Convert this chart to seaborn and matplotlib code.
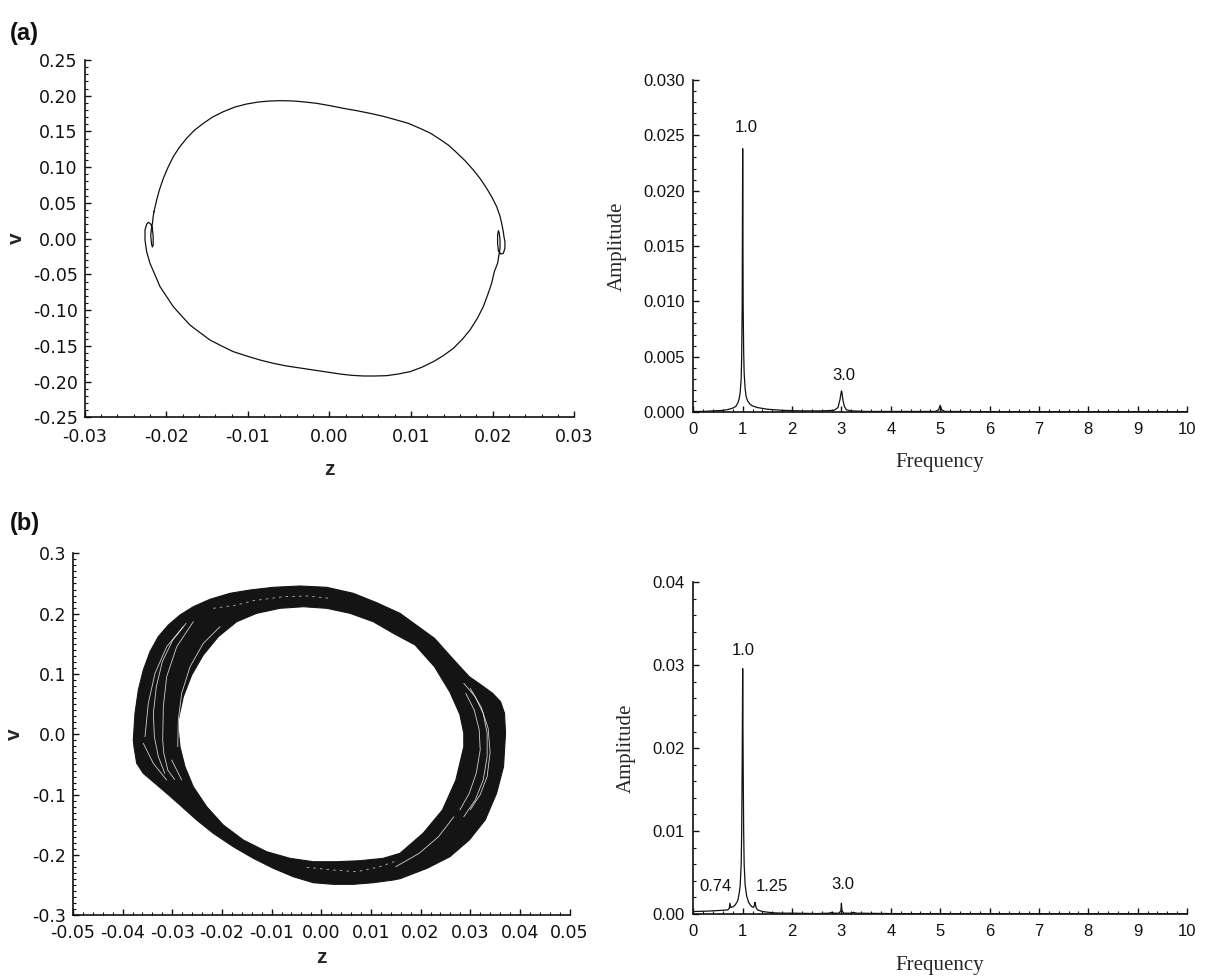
import matplotlib
matplotlib.use("Agg")
import numpy as np
import pandas as pd
import matplotlib.pyplot as plt
import seaborn as sns
from matplotlib.ticker import MultipleLocator, FuncFormatter

# ---------------- (a) phase portrait: periodic orbit, drawn clockwise ----------------
upper_z = [-0.02150, -0.02117, -0.02084, -0.02035, -0.01978, -0.01913, -0.01839, -0.01750,
           -0.01656, -0.01545, -0.01431, -0.01300, -0.01157, -0.01014, -0.00871, -0.00729,
           -0.00586, -0.00443, -0.00300, -0.00157, 0.00007, 0.00170, 0.00333, 0.00497,
           0.00660, 0.00823, 0.00966, 0.01109, 0.01240, 0.01354, 0.01461, 0.01559,
           0.01665, 0.01763, 0.01853, 0.01926, 0.01991, 0.02049, 0.02089, 0.02110,
           0.02130, 0.02138]
upper_v = [0.03776, 0.05409, 0.06808, 0.08441, 0.09980, 0.11473, 0.12779, 0.14038,
           0.15158, 0.16137, 0.17024, 0.17770, 0.18423, 0.18843, 0.19123, 0.19263,
           0.19309, 0.19263, 0.19123, 0.18936, 0.18610, 0.18236, 0.17910, 0.17537,
           0.17117, 0.16604, 0.16137, 0.15438, 0.14738, 0.13898, 0.13059, 0.12032,
           0.10866, 0.09607, 0.08301, 0.07041, 0.05782, 0.04476, 0.03170, 0.02144,
           0.00977, 0.00278]
right_loop_z = [0.0215, 0.0215, 0.0213, 0.0210, 0.0207, 0.0206, 0.0206, 0.0207,
                0.0208, 0.0209, 0.0209, 0.0208, 0.0206]
right_loop_v = [-0.0043, -0.0135, -0.0205, -0.0215, -0.0169, -0.0065, 0.0051, 0.0111,
                0.0083, -0.0019, -0.0135, -0.0205, -0.0345]
lower_z = [0.02020, 0.01987, 0.01938, 0.01885, 0.01812, 0.01722, 0.01628, 0.01518,
           0.01395, 0.01273, 0.01130, 0.00987, 0.00844, 0.00701, 0.00558, 0.00415,
           0.00272, 0.00129, -0.00034, -0.00198, -0.00361, -0.00524, -0.00688, -0.00851,
           -0.01014, -0.01178, -0.01321, -0.01464, -0.01586, -0.01709, -0.01811, -0.01913,
           -0.01995, -0.02076, -0.02137, -0.02199, -0.02240, -0.02260]
lower_v = [-0.04620, -0.06253, -0.07886, -0.09518, -0.11151, -0.12783, -0.14089, -0.15349,
           -0.16375, -0.17215, -0.18008, -0.18614, -0.18941, -0.19174, -0.19220, -0.19220,
           -0.19127, -0.18941, -0.18661, -0.18381, -0.18101, -0.17821, -0.17448, -0.16981,
           -0.16422, -0.15815, -0.15022, -0.14183, -0.13156, -0.12084, -0.10824, -0.09518,
           -0.08119, -0.06719, -0.05087, -0.03454, -0.01822, -0.00189]
left_loop_z = [-0.0226, -0.0224, -0.0222, -0.0219, -0.0217, -0.0216, -0.0216, -0.0217,
               -0.0218, -0.0219, -0.0218, -0.0217, -0.0216, -0.02150]
left_loop_v = [0.0121, 0.0201, 0.0229, 0.0205, 0.0145, 0.0027, -0.0089, -0.0117,
               -0.0075, 0.0051, 0.0145, 0.0205, 0.0307, 0.03776]

# ---------------- (a) amplitude spectrum ----------------
freq_a = [0.0, 0.2, 0.4, 0.6, 0.7, 0.8, 0.86, 0.9, 0.93, 0.95, 0.97, 0.98, 0.99, 1.0,
          1.01, 1.02, 1.03, 1.05, 1.07, 1.1, 1.15, 1.2, 1.3, 1.5, 1.8, 2.2, 2.6,
          2.85, 2.93, 2.97, 3.0, 3.01, 3.03, 3.06, 3.1, 3.2, 3.5, 4.0, 4.9, 4.97,
          5.0, 5.03, 5.1, 6.0, 7.0, 8.0, 9.0, 10.0]
amp_a = [0.00005, 0.00005, 0.0001, 0.00015, 0.00022, 0.00035, 0.0005, 0.0008, 0.0012,
         0.0018, 0.0030, 0.0050, 0.0095, 0.0238, 0.0095, 0.0055, 0.0035, 0.0021,
         0.0014, 0.0010, 0.0007, 0.00055, 0.0004, 0.00025, 0.00015, 0.0001, 0.0001,
         0.00015, 0.0004, 0.0011, 0.0019, 0.0018, 0.0011, 0.0005, 0.0002, 0.0001,
         0.00005, 0.00005, 0.00005, 0.0002, 0.0006, 0.0002, 0.00005, 0.00003,
         0.00003, 0.00003, 0.00003, 0.00003]
peaks_a = ["1.0", "3.0"]
peak_label_a_x = [1.07, 3.04]
peak_label_a_y = [0.0257, 0.0033]

# ---------------- (b) phase portrait: band swept by quasi-periodic orbits ----------------
band_outer_z = [-0.03784, -0.03750, -0.03683, -0.03583, -0.03448, -0.03281, -0.03079,
                -0.02844, -0.02576, -0.02240, -0.01837, -0.01434, -0.00965, -0.00428,
                0.00110, 0.00645, 0.01116, 0.01585, 0.0228, 0.0267, 0.0298, 0.0322,
                0.0345, 0.0361, 0.0369, 0.0371, 0.0367, 0.0353, 0.0330, 0.0298, 0.0259,
                0.0213, 0.01585, 0.01451, 0.01048, 0.00645, 0.00243, -0.00160, -0.00563,
                -0.00965, -0.01368, -0.01771, -0.02173, -0.02508, -0.02844, -0.03112,
                -0.03347, -0.03583, -0.03716, -0.03770]
band_outer_v = [-0.00947, 0.03479, 0.07341, 0.10656, 0.13690, 0.16176, 0.18115,
                0.19773, 0.21149, 0.22375, 0.23370, 0.23917, 0.24364, 0.24580,
                0.24364, 0.23370, 0.21812, 0.20055, 0.1591, 0.1232, 0.0955, 0.0817,
                0.0680, 0.0541, 0.0348, 0.0016, -0.0537, -0.0978, -0.1421, -0.1752, -0.2029,
                -0.2221, -0.23937, -0.24152, -0.24600, -0.24865, -0.24865, -0.24600, -0.23605,
                -0.22213, -0.20555, -0.18632, -0.16411, -0.14207, -0.11720, -0.09781,
                -0.08124, -0.06466, -0.04809, -0.02057]
band_inner_z = [-0.02878, -0.02777, -0.02608, -0.02375, -0.02073, -0.01702, -0.01300,
                -0.00830, -0.00361, 0.00110, 0.00579, 0.01048, 0.01451, 0.0189, 0.0228,
                0.0259, 0.0279, 0.0287, 0.0287, 0.0271, 0.0244, 0.0205, 0.01585, 0.01249,
                0.00780, 0.00311, -0.00160, -0.00629, -0.01098, -0.01569, -0.01972,
                -0.02306, -0.02576, -0.02743, -0.02844, -0.02878]
band_inner_v = [0.02369, 0.06231, 0.09828, 0.13143, 0.16176, 0.18662, 0.20055,
                0.20883, 0.21149, 0.20883, 0.20055, 0.18662, 0.16740, 0.1480, 0.1120,
                0.0700, 0.0330, 0.0016, -0.0205, -0.0758, -0.1255, -0.1641, -0.19726, -0.20555,
                -0.20953, -0.21119, -0.21119, -0.20555, -0.19461, -0.17522, -0.15036,
                -0.12002, -0.08687, -0.05372, -0.02057, 0.00711]

# thin gaps between neighbouring trajectories inside the band
gap_z = {
    "left_a": [-0.02576, -0.02910, -0.03112, -0.03180, -0.03192, -0.0317, -0.0309, -0.0295],
    "left_b": [-0.02038, -0.02375, -0.02642, -0.02810, -0.02878, -0.02890],
    "left_c": [-0.02777, -0.03112, -0.03347, -0.03482, -0.03548],
    "left_d": [-0.0272, -0.0299, -0.0320, -0.0332, -0.0338, -0.0336, -0.0328, -0.0315],
    "shoulder_a": [-0.03583, -0.03381, -0.03112],
    "shoulder_b": [-0.03011, -0.02810],
    "right_a": [0.0287, 0.0310, 0.0326, 0.0334, 0.0334, 0.0326, 0.0310, 0.0287],
    "right_b": [0.0291, 0.0308, 0.0318, 0.0320, 0.0312, 0.0298, 0.0279],
    "right_c": [0.0300, 0.0322, 0.0336, 0.0340, 0.0334, 0.0320, 0.0300],
    "low": [0.0150, 0.0197, 0.0236, 0.0267],
}
gap_v = {
    "left_a": [0.18662, 0.14518, 0.09546, 0.04573, -0.00947, -0.0315, -0.0592, -0.0750],
    "left_b": [0.17834, 0.15082, 0.11203, 0.06794, 0.02369, -0.02057],
    "left_c": [0.17834, 0.14518, 0.10110, 0.05137, -0.00399],
    "left_d": [0.1840, 0.1563, 0.1204, 0.0790, 0.0348, -0.0040, -0.0371, -0.0647],
    "shoulder_a": [-0.01494, -0.04809, -0.07577],
    "shoulder_b": [-0.04262, -0.07577],
    "right_a": [0.0845, 0.0623, 0.0348, 0.0016, -0.0371, -0.0757, -0.1089, -0.1366],
    "right_b": [0.0679, 0.0403, 0.0071, -0.0260, -0.0647, -0.0978, -0.1255],
    "right_c": [0.0760, 0.0450, 0.0100, -0.0300, -0.0700, -0.1000, -0.1250],
    "low": [-0.2195, -0.1973, -0.1698, -0.1366],
}
dash_top_z = [-0.02173, -0.01702, -0.01368, -0.00764, -0.00293, 0.00176]
dash_top_v = [0.20883, 0.21430, 0.22143, 0.22806, 0.22922, 0.22541]
dash_bottom_z = [-0.00293, 0.00243, 0.00714, 0.01183, 0.01519]
dash_bottom_v = [-0.22047, -0.22495, -0.22777, -0.21948, -0.20953]

# ---------------- (b) amplitude spectrum ----------------
freq_b = [0.0, 0.3, 0.6, 0.7, 0.73, 0.74, 0.76, 0.8, 0.85, 0.9, 0.93, 0.95, 0.97, 0.98,
          0.99, 1.0, 1.01, 1.02, 1.03, 1.05, 1.08, 1.12, 1.18, 1.22, 1.24, 1.25, 1.27,
          1.3, 1.4, 1.6, 1.8, 2.0, 2.5, 2.75, 2.8, 2.85, 2.95, 2.99, 3.0, 3.01, 3.05,
          3.2, 3.25, 3.3, 4.0, 5.0, 6.0, 7.0, 8.0, 9.0, 10.0]
amp_b = [0.0003, 0.00035, 0.00045, 0.0005, 0.0007, 0.0013, 0.0008, 0.00085, 0.0011,
         0.0016, 0.0025, 0.0035, 0.0060, 0.0100, 0.0180, 0.0296, 0.0180, 0.0100,
         0.0060, 0.0035, 0.0022, 0.0014, 0.0009, 0.0008, 0.0011, 0.0014, 0.0008,
         0.0005, 0.0003, 0.00015, 0.0001, 0.0001, 0.00005, 0.0001, 0.0002, 0.0001,
         0.0001, 0.0004, 0.0013, 0.0004, 0.0001, 0.0001, 0.0002, 0.0001, 0.00005,
         0.00003, 0.00003, 0.00003, 0.00003, 0.00003, 0.00003]
peaks_b = ["0.74", "1.0", "1.25", "3.0"]
peak_label_b_x = [0.44, 1.01, 1.59, 3.03]
peak_label_b_y = [0.0033, 0.0318, 0.0033, 0.0035]

# ---------------- styling ----------------
sns.set_theme(style="ticks")
plt.rcParams["font.family"] = ["Liberation Sans", "DejaVu Sans"]
plt.rcParams["axes.unicode_minus"] = False

SERIF = ["Liberation Serif", "DejaVu Serif"]
WIDE = ["DejaVu Sans"]
INK = "#111111"


def fmt(decimals):
    return FuncFormatter(lambda val, pos: f"{round(val, 8) + 0.0:.{decimals}f}")


def style_axes(ax, xlim, ylim, xstep, xminor, ystep, yminor, xdec, ydec,
               xpad, ypad, labelsize, family):
    ax.set_xlim(*xlim)
    ax.set_ylim(*ylim)
    ax.xaxis.set_major_locator(MultipleLocator(xstep))
    ax.xaxis.set_minor_locator(MultipleLocator(xminor))
    ax.yaxis.set_major_locator(MultipleLocator(ystep))
    ax.yaxis.set_minor_locator(MultipleLocator(yminor))
    ax.xaxis.set_major_formatter(fmt(xdec))
    ax.yaxis.set_major_formatter(fmt(ydec))
    for side in ("top", "right"):
        ax.spines[side].set_visible(False)
    for side in ("left", "bottom"):
        ax.spines[side].set_linewidth(1.2)
        ax.spines[side].set_color(INK)
    ax.tick_params(which="major", direction="in", length=4.5, width=1.0,
                   color=INK, labelcolor=INK, labelsize=labelsize)
    ax.tick_params(which="minor", direction="in", length=2.3, width=0.8, color=INK)
    ax.tick_params(axis="x", which="major", pad=xpad)
    ax.tick_params(axis="y", which="major", pad=ypad)
    for lab in ax.get_xticklabels() + ax.get_yticklabels():
        lab.set_family(family)
    ax.set_facecolor("white")


fig = plt.figure(figsize=(12.13, 9.77), dpi=100)
fig.patch.set_facecolor("white")

ax_a1 = fig.add_axes([0.06975, 0.57288, 0.40371, 0.36571])
ax_a2 = fig.add_axes([0.57156, 0.57830, 0.40701, 0.33982])
ax_b1 = fig.add_axes([0.06010, 0.06315, 0.40948, 0.37052])
ax_b2 = fig.add_axes([0.57156, 0.06448, 0.40701, 0.33951])

# (a) phase portrait
orbit = pd.DataFrame({
    "z": upper_z + right_loop_z + lower_z + left_loop_z,
    "v": upper_v + right_loop_v + lower_v + left_loop_v,
})
sns.lineplot(data=orbit, x="z", y="v", sort=False, estimator=None,
             color=INK, linewidth=0.9, ax=ax_a1)
style_axes(ax_a1, (-0.03, 0.03), (-0.25, 0.25), 0.01, 0.002, 0.05, 0.01, 2, 2,
           8, 5, 12.5, WIDE)
ax_a1.set_xlabel("z", fontsize=15, fontweight="bold", labelpad=10)
ax_a1.set_ylabel("v", fontsize=15, fontweight="bold", labelpad=5)

# (a) spectrum
sns.lineplot(x=freq_a, y=amp_a, sort=False, estimator=None,
             color=INK, linewidth=0.9, ax=ax_a2)
style_axes(ax_a2, (0, 10), (0, 0.030), 1, 0.2, 0.005, 0.001, 0, 3, 7, 6,
           12, ["Liberation Sans"])
ax_a2.set_xlabel("Frequency", fontsize=15, family=SERIF, labelpad=12)
ax_a2.set_ylabel("Amplitude", fontsize=15, family=SERIF, labelpad=12)
for lab, tx, ty in zip(peaks_a, peak_label_a_x, peak_label_a_y):
    ax_a2.text(tx, ty, lab, ha="center", va="center", fontsize=12, color=INK)

# (b) phase portrait: filled band of trajectories with thin gaps
ax_b1.fill(band_outer_z, band_outer_v, facecolor="#141414", edgecolor="#141414",
           linewidth=0.8, zorder=2)
ax_b1.fill(band_inner_z, band_inner_v, facecolor="white", edgecolor="#141414",
           linewidth=0.8, zorder=3)
for key in gap_z:
    sns.lineplot(x=gap_z[key], y=gap_v[key], sort=False, estimator=None,
                 color="white", linewidth=0.6, alpha=0.8, ax=ax_b1, zorder=4)
for dz, dv in ((dash_top_z, dash_top_v), (dash_bottom_z, dash_bottom_v)):
    ax_b1.plot(dz, dv, color="white", linewidth=0.6, alpha=0.7,
               dashes=(3, 5), zorder=4)
style_axes(ax_b1, (-0.05, 0.05), (-0.3, 0.3), 0.01, 0.002, 0.1, 0.01, 2, 1,
           6.5, 5, 12.5, WIDE)
ax_b1.set_xlabel("z", fontsize=15, fontweight="bold", labelpad=4)
ax_b1.set_ylabel("v", fontsize=15, fontweight="bold", labelpad=6)

# (b) spectrum
sns.lineplot(x=freq_b, y=amp_b, sort=False, estimator=None,
             color=INK, linewidth=0.9, ax=ax_b2)
style_axes(ax_b2, (0, 10), (0, 0.04), 1, 0.2, 0.01, 0.002, 0, 2, 7.5, 6,
           12, ["Liberation Sans"])
ax_b2.set_xlabel("Frequency", fontsize=15, family=SERIF, labelpad=12)
ax_b2.set_ylabel("Amplitude", fontsize=15, family=SERIF, labelpad=12)
for lab, tx, ty in zip(peaks_b, peak_label_b_x, peak_label_b_y):
    ax_b2.text(tx, ty, lab, ha="center", va="center", fontsize=12, color=INK)

# panel tags
fig.text(0.008, 0.966, "(a)", fontsize=17, fontweight="bold", color=INK, va="center")
fig.text(0.008, 0.464, "(b)", fontsize=17, fontweight="bold", color=INK, va="center")

fig.savefig("out.png", dpi=100, facecolor="white")
